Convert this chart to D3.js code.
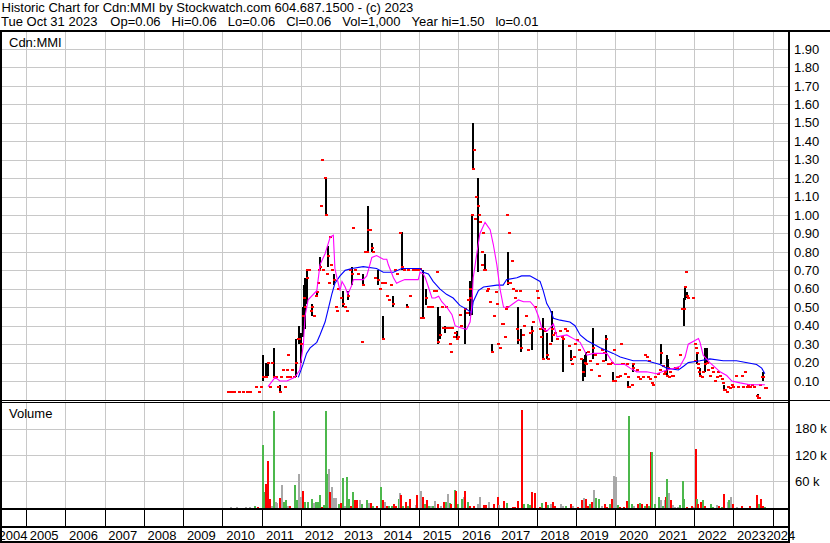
<!DOCTYPE html>
<html><head><meta charset="utf-8">
<script src="https://cdn.jsdelivr.net/npm/d3@7"></script>
<style>
html,body{margin:0;padding:0;background:#fff;}
svg{display:block;font-family:"Liberation Sans",Arial,sans-serif;}
text{white-space:pre;}
</style></head><body>
<svg id="c" width="830" height="543"></svg>
<script>
// ---------------- DATA ----------------
const titleLine1 = "Historic Chart for Cdn:MMI by Stockwatch.com 604.687.1500 - (c) 2023";
const titleLine2 = ["Tue Oct 31 2023", "Op=0.06", "Hi=0.06", "Lo=0.06", "Cl=0.06", "Vol=1,000", "Year hi=1.50", "lo=0.01"];
const symbolLabel = "Cdn:MMI";
const volumeLabel = "Volume";
const years = [2004,2005,2006,2007,2008,2009,2010,2011,2012,2013,2014,2015,2016,2017,2018,2019,2020,2021,2022,2023,2024];
const priceTicks = [0.10,0.20,0.30,0.40,0.50,0.60,0.70,0.80,0.90,1.00,1.10,1.20,1.30,1.40,1.50,1.60,1.70,1.80,1.90];
const volumeTicks = [60000,120000,180000];

// [decimal year, high, low, close]  or  [decimal year, close] (no range)
const bars2010_2011 = [
 [2010.15,.04],[2010.22,.04],[2010.29,.04],[2010.42,.04],[2010.51,.04],[2010.62,.04],[2010.71,.04],[2010.85,.07],[2010.93,.04],[2010.98,.07],
 [2011.04,.24,.10,.12],[2011.08,.12],[2011.12,.20,.12,.12],[2011.16,.20,.13,.20],[2011.21,.07],[2011.26,.20],[2011.32,.28,.12,.12],[2011.36,.12],
 [2011.41,.07],[2011.46,.08,.04,.04],[2011.50,.12],[2011.54,.16],[2011.59,.07],[2011.63,.12],[2011.64,.16],[2011.68,.24],[2011.72,.12],[2011.77,.16],
 [2011.82,.12],[2011.87,.33,.12,.20],[2011.91,.33],[2011.95,.40,.30,.33],[2011.99,.36,.20,.30]
];
const bars2012_2014 = [
 [2012.04,.50,.34,.45],[2012.07,.62,.38,.55],[2012.10,.66,.38,.50],[2012.14,.70],[2012.16,.70,.52,.66],[2012.20,.70],[2012.25,.48],
 [2012.28,.52,.45,.50],[2012.33,.45],[2012.38,.56],[2012.40,.59,.56,.58],[2012.43,.63],[2012.45,.70],[2012.48,.77,.71,.72],[2012.51,1.05],[2012.52,1.30],
 [2012.56,.70],[2012.60,1.20],[2012.63,1.20,1.00,1.00],[2012.66,.68],[2012.68,.83,.72,.78],[2012.70,.63],[2012.74,.88],[2012.76,.73],[2012.79,.70],
 [2012.84,.68,.62,.65],[2012.88,.50],[2012.91,.48],[2012.94,.60],
 [2013.02,.55],[2013.07,.59,.50,.52],[2013.12,.50],[2013.17,.48],[2013.20,.59,.54,.56],[2013.24,.70],[2013.29,.72,.62,.68],[2013.33,.93],
 [2013.37,.70],[2013.45,.68],[2013.54,.31],[2013.58,.68,.62,.62],[2013.63,.80],[2013.68,.80],[2013.71,1.05,.80,.92],[2013.75,.92],
 [2013.80,.85,.80,.82],[2013.83,.80],[2013.88,.66],[2013.96,.70,.62,.65],
 [2014.01,.60],[2014.06,.63],[2014.09,.45,.33,.33],[2014.13,.63],[2014.19,.56],[2014.24,.54],[2014.29,.62],[2014.35,.56,.50,.52],
 [2014.39,.70],[2014.44,.68],[2014.52,.90],[2014.56,.91,.70,.72],[2014.62,.70],[2014.69,.52,.50,.50],[2014.72,.70],[2014.77,.56],
 [2014.85,.70],[2014.92,.70],[2014.97,.70]
];
const bars2015_2017 = [
 [2015.03,.71],[2015.05,.44],[2015.11,.70,.44,.44],[2015.17,.60,.51,.55],[2015.23,.50],[2015.28,.50],[2015.33,.50],[2015.38,.59],
 [2015.43,.59],[2015.45,.69],[2015.49,.50,.30,.31],[2015.53,.45,.33,.35],[2015.58,.50],[2015.62,.39],[2015.66,.40,.36,.39],[2015.69,.50],
 [2015.72,.39],[2015.76,.39],[2015.79,.30],[2015.81,.26],[2015.85,.39],[2015.89,.34],[2015.92,.36],[2015.96,.37,.33,.33],[2015.99,.34],
 [2016.04,.46],[2016.07,.40],[2016.17,.49,.30,.49],[2016.22,.47],[2016.25,.54],[2016.29,.64,.45,.60],[2016.30,.55],[2016.34,1.00,.46,1.00],
 [2016.38,1.50,1.25,1.25],[2016.40,1.35],[2016.42,.98],[2016.45,1.10],[2016.51,1.20,.69,1.05],[2016.53,1.00],[2016.55,.96],[2016.59,.80],
 [2016.60,.73],[2016.63,.90],[2016.65,.70],[2016.68,.79,.70,.70],[2016.73,.59],[2016.76,.60],[2016.81,.53],[2016.85,.30,.25,.26],
 [2016.91,.45],[2016.96,.58],[2016.99,.52],
 [2017.01,.30],[2017.06,.28],[2017.11,.41],[2017.14,.41],[2017.19,.34],[2017.22,.49],[2017.24,.50],[2017.25,1.00],[2017.27,.80,.62,.63],
 [2017.29,.90],[2017.32,.63],[2017.37,.75],[2017.39,.60],[2017.44,.55],[2017.47,.59],[2017.50,.38],[2017.53,.50,.30,.32],[2017.57,.59],
 [2017.60,.38,.26,.28],[2017.65,.35],[2017.67,.40],[2017.72,.45],[2017.77,.27],[2017.83,.36],[2017.87,.40,.27,.37],[2017.90,.42],
 [2017.95,.50],[2018.00,.59]
];
const bars2018_2020 = [
 [2018.03,.55],[2018.08,.38],[2018.10,.34],[2018.16,.44,.22,.22],[2018.18,.38],[2018.21,.37],[2018.25,.36,.22,.24],[2018.28,.22],
 [2018.33,.30],[2018.38,.48,.31,.38],[2018.41,.35],[2018.46,.36],[2018.51,.33],[2018.59,.37],[2018.64,.34],[2018.67,.33,.15,.33],
 [2018.72,.38],[2018.77,.37],[2018.82,.29],[2018.86,.27,.21,.22],[2018.89,.19],[2018.94,.23],[2018.97,.30],
 [2019.02,.32],[2019.07,.27],[2019.12,.22],[2019.18,.22,.10,.15],[2019.22,.24,.12,.20],[2019.26,.26,.19,.19],[2019.30,.26],[2019.35,.21],
 [2019.38,.16],[2019.44,.39,.22,.28],[2019.48,.24],[2019.53,.19],[2019.58,.13],[2019.65,.27],[2019.69,.21],[2019.71,.25],
 [2019.76,.35,.21,.33],[2019.82,.19],[2019.86,.19],[2019.90,.20],[2019.93,.15,.10,.10],[2019.94,.10],[2019.96,.27],[2019.98,.10],
 [2020.03,.12],[2020.07,.12],[2020.11,.13],[2020.13,.30],[2020.16,.19],[2020.20,.19],[2020.24,.14],[2020.28,.19],[2020.31,.12],
 [2020.33,.10,.07,.07],[2020.35,.07],[2020.41,.08],[2020.44,.20,.15,.19],[2020.45,.17],[2020.54,.16],[2020.58,.12],[2020.62,.11],
 [2020.69,.12],[2020.75,.24],[2020.79,.23],[2020.83,.12],[2020.86,.21],[2020.88,.11],[2020.92,.09],[2020.95,.08]
];
const bars2021_2023 = [
 [2021.01,.12],[2021.09,.14],[2021.13,.16],[2021.16,.30,.19,.25],[2021.20,.18],[2021.22,.14],[2021.26,.15],[2021.30,.24,.13,.13],
 [2021.34,.22,.17,.17],[2021.35,.12],[2021.39,.15],[2021.43,.13],[2021.47,.13],[2021.51,.17],[2021.57,.17],[2021.64,.24],[2021.68,.49],
 [2021.73,.55,.40,.49],[2021.77,.61,.54,.61],[2021.79,.69],[2021.81,.58,.55,.56],[2021.83,.56],[2021.85,.55],[2021.96,.55],
 [2022.01,.21],[2022.02,.30],[2022.05,.28],[2022.07,.25,.19,.25],[2022.09,.19],[2022.11,.17],[2022.13,.15],[2022.15,.17,.12,.13],
 [2022.19,.12],[2022.23,.15],[2022.28,.28,.15,.19],[2022.32,.28,.20,.20],[2022.36,.16],[2022.40,.13],[2022.45,.17],[2022.49,.15],
 [2022.53,.10],[2022.58,.12],[2022.62,.15],[2022.66,.13],[2022.70,.11],[2022.74,.09],[2022.76,.08,.05,.05],[2022.79,.05],[2022.83,.04],
 [2022.87,.07],[2022.91,.06],[2022.96,.08],[2023.00,.07],
 [2023.07,.13],[2023.12,.07],[2023.21,.13],[2023.25,.07],[2023.30,.15],[2023.34,.07],[2023.37,.08],[2023.42,.07],[2023.47,.08],
 [2023.52,.07],[2023.61,.02],[2023.63,.03,.01,.01],[2023.66,.01],[2023.68,.08],[2023.72,.12],[2023.75,.15,.10,.12],[2023.76,.12],
 [2023.80,.06],[2023.83,.06]
];

// short moving average (magenta) [decimal year, value]
const maShort = [
 [2011.16,.07],[2011.34,.12],[2011.46,.10],[2011.64,.10],[2011.84,.12],[2011.97,.16],[2012.06,.30],[2012.10,.45],[2012.18,.54],
 [2012.40,.59],[2012.48,.73],[2012.61,.79],[2012.74,.88],[2012.82,.89],[2012.86,.71],[2012.91,.66],[2012.99,.59],[2013.04,.64],
 [2013.12,.61],[2013.19,.57],[2013.29,.62],[2013.33,.65],[2013.58,.65],[2013.67,.67],[2013.80,.77],[2013.92,.78],[2014.09,.76],
 [2014.18,.76],[2014.22,.73],[2014.35,.66],[2014.43,.63],[2014.52,.64],[2014.64,.65],[2014.98,.65],[2015.03,.69],[2015.11,.68],
 [2015.16,.66],[2015.24,.61],[2015.33,.55],[2015.41,.55],[2015.50,.56],[2015.58,.53],[2015.71,.50],[2015.84,.46],[2015.92,.40],
 [2016.04,.39],[2016.21,.38],[2016.30,.42],[2016.34,.50],[2016.38,.66],[2016.47,.79],[2016.55,.90],[2016.68,.96],[2016.81,.92],
 [2016.89,.84],[2016.98,.73],[2017.06,.60],[2017.15,.50],[2017.27,.50],[2017.40,.52],[2017.53,.54],[2017.66,.53],[2017.83,.53],
 [2017.95,.50],[2018.04,.45],[2018.12,.39],[2018.25,.37],[2018.34,.39],[2018.42,.41],[2018.51,.34],[2018.76,.35],[2018.93,.33],
 [2019.10,.31],[2019.27,.24],[2019.44,.25],[2019.61,.25],[2019.78,.25],[2019.90,.21],[2019.98,.19],[2020.24,.19],[2020.37,.17],
 [2020.54,.15],[2020.79,.15],[2021.05,.14],[2021.18,.15],[2021.30,.16],[2021.51,.17],[2021.64,.18],[2021.77,.23],[2021.85,.30],
 [2022.02,.32],[2022.11,.33],[2022.15,.31],[2022.23,.24],[2022.40,.20],[2022.66,.15],[2022.83,.13],[2022.96,.10],[2023.17,.09],
 [2023.42,.08],[2023.68,.08],[2023.80,.08]
];
// long moving average (blue)
const maLong = [
 [2011.93,.12],[2012.05,.19],[2012.14,.25],[2012.23,.28],[2012.40,.31],[2012.48,.35],[2012.61,.42],[2012.69,.49],[2012.78,.57],
 [2012.86,.63],[2012.99,.67],[2013.12,.70],[2013.29,.71],[2013.58,.72],[2013.92,.71],[2014.09,.69],[2014.35,.69],[2014.56,.71],
 [2015.03,.71],[2015.11,.69],[2015.24,.68],[2015.36,.64],[2015.53,.60],[2015.70,.57],[2015.87,.55],[2016.04,.51],[2016.21,.49],
 [2016.34,.47],[2016.38,.53],[2016.51,.59],[2016.64,.61],[2016.98,.62],[2017.14,.62],[2017.23,.65],[2017.49,.66],[2017.61,.67],
 [2017.82,.67],[2018.08,.64],[2018.16,.59],[2018.25,.52],[2018.33,.49],[2018.42,.44],[2018.59,.43],[2018.84,.42],[2018.97,.40],
 [2019.10,.35],[2019.27,.32],[2019.61,.28],[2019.94,.25],[2020.12,.23],[2020.45,.21],[2020.79,.21],[2021.13,.19],[2021.30,.17],
 [2021.60,.16],[2021.73,.18],[2021.85,.20],[2022.15,.21],[2022.40,.22],[2022.74,.21],[2023.08,.21],[2023.59,.19],[2023.72,.17],
 [2023.80,.14]
];

// volume [decimal year, thousands of shares, u=up / d=down / n=unchanged]
const volume2010_2014 = [
 [2010.22,.5,'n'],[2010.38,.5,'n'],[2010.60,1,'n'],[2010.70,1.9,'n'],[2010.83,3.4,'u'],[2010.91,.8,'d'],
 [2011.02,143,'u'],[2011.08,35,'u'],[2011.12,54,'d'],[2011.15,106,'d'],[2011.21,20,'d'],[2011.25,3.4,'n'],[2011.31,220,'u'],
 [2011.36,13,'n'],[2011.40,9.5,'n'],[2011.46,22,'d'],[2011.51,51,'n'],[2011.56,13,'u'],[2011.62,17,'u'],[2011.66,3.4,'n'],
 [2011.73,3.4,'d'],[2011.84,51,'u'],[2011.89,16,'u'],[2011.95,76,'n'],[2012.00,25,'n'],[2012.05,38,'d'],[2012.10,13,'u'],
 [2012.17,13,'u'],[2012.28,19,'u'],[2012.33,9.5,'n'],[2012.38,13,'u'],[2012.43,13,'u'],[2012.48,29,'u'],[2012.52,2,'d'],
 [2012.58,5.7,'u'],[2012.63,220,'u'],[2012.66,76,'u'],[2012.71,88,'n'],[2012.74,35,'d'],[2012.79,46,'n'],[2012.84,21,'n'],
 [2012.90,21,'n'],[2012.96,7.3,'u'],[2013.02,9.5,'d'],[2013.06,67,'u'],[2013.11,4,'n'],[2013.16,69,'u'],[2013.21,19,'u'],
 [2013.26,3.4,'d'],[2013.31,35,'u'],[2013.36,17,'d'],[2013.43,17,'d'],[2013.50,17,'n'],[2013.56,8,'u'],[2013.67,17,'u'],
 [2013.72,9.5,'n'],[2013.77,9.5,'d'],[2013.82,3.4,'u'],[2013.94,3.4,'d'],[2014.03,46,'u'],[2014.08,17,'d'],[2014.13,12,'n'],
 [2014.18,3.4,'d'],[2014.23,3.4,'u'],[2014.31,3.4,'u'],[2014.36,8,'d'],[2014.41,3.4,'d'],[2014.48,19,'u'],[2014.51,32,'n'],
 [2014.53,29,'d'],[2014.59,3.4,'u'],[2014.67,12.5,'d'],[2014.72,3.4,'u'],[2014.77,19,'d']
];
const volume2015_2019 = [
 [2014.92,5.7,'n'],[2014.95,29,'d'],[2015.04,38,'n'],[2015.10,25,'d'],[2015.16,8,'u'],[2015.21,17,'d'],[2015.26,3.4,'u'],
 [2015.30,3.4,'n'],[2015.36,3.4,'u'],[2015.41,15,'n'],[2015.48,8,'d'],[2015.56,3.4,'n'],[2015.64,12.5,'d'],[2015.68,12.5,'u'],
 [2015.73,31,'n'],[2015.78,9.5,'u'],[2015.81,8,'d'],[2015.92,40,'u'],[2015.95,38,'d'],[2016.00,7.3,'u'],[2016.09,19,'u'],
 [2016.14,25,'n'],[2016.17,38,'d'],[2016.24,12.5,'u'],[2016.29,3.4,'d'],[2016.39,3.4,'d'],[2016.49,8,'n'],[2016.54,24,'n'],
 [2016.65,5.7,'d'],[2016.70,5.7,'d'],[2016.78,12.5,'n'],[2016.90,8,'d'],[2017.00,24,'d'],[2017.04,5.7,'n'],[2017.16,15,'d'],
 [2017.25,9.5,'u'],[2017.38,.8,'d'],[2017.45,.8,'d'],[2017.51,15,'d'],[2017.61,222,'d'],[2017.68,8,'u'],[2017.77,8,'u'],
 [2017.82,5.7,'u'],[2017.87,35,'d'],[2017.95,33,'d'],[2018.07,2,'d'],[2018.14,9.5,'u'],[2018.24,12.5,'d'],[2018.29,5.7,'u'],
 [2018.36,8,'n'],[2018.41,12.5,'d'],[2018.46,3.4,'d'],[2018.61,8,'n'],[2018.67,3.4,'n'],[2018.73,3.4,'u'],[2018.87,8,'d'],
 [2018.92,3.4,'n'],[2019.04,.8,'d'],[2019.14,17,'d'],[2019.19,21,'n'],[2019.24,19,'d'],[2019.30,3.4,'d'],[2019.35,8,'u'],
 [2019.40,12.5,'d'],[2019.45,40,'n'],[2019.51,22,'u'],[2019.58,19,'u'],[2019.66,3.4,'n'],[2019.73,8,'d'],[2019.79,.8,'d'],
 [2019.86,8,'u'],[2019.91,19,'d'],[2019.96,72,'n']
];
const volume2020_2023 = [
 [2020.01,70,'n'],[2020.06,5,'u'],[2020.11,.5,'d'],[2020.22,.5,'d'],[2020.30,15,'d'],[2020.34,209,'u'],[2020.42,8,'u'],
 [2020.47,3.4,'n'],[2020.57,8,'d'],[2020.62,10,'u'],[2020.67,8,'d'],[2020.74,3.4,'u'],[2020.79,8,'d'],[2020.86,3.4,'u'],
 [2020.89,127,'d'],[2020.93,127,'u'],[2021.00,8,'u'],[2021.10,23,'u'],[2021.15,17,'n'],[2021.20,3.4,'u'],[2021.25,17,'n'],
 [2021.28,23,'d'],[2021.30,65,'u'],[2021.35,33,'n'],[2021.40,17,'d'],[2021.46,5.7,'n'],[2021.51,.8,'n'],[2021.59,1,'n'],
 [2021.63,5,'u'],[2021.71,60,'u'],[2021.74,19,'u'],[2021.81,1,'d'],[2021.95,3.4,'d'],[2022.00,.8,'n'],[2022.05,133,'d'],
 [2022.07,19,'u'],[2022.10,8,'d'],[2022.17,12.5,'d'],[2022.22,17,'u'],[2022.27,3.4,'d'],[2022.42,8,'u'],[2022.47,.8,'u'],
 [2022.58,5,'n'],[2022.63,3.4,'d'],[2022.71,2,'u'],[2022.76,31,'d'],[2022.87,12.5,'n'],[2022.90,17,'u'],[2022.95,24,'n'],
 [2022.98,8,'d'],[2023.08,2,'n'],[2023.22,3.4,'d'],[2023.42,3.4,'d'],[2023.59,29,'d'],[2023.64,7.3,'u'],[2023.69,19,'d'],
 [2023.76,3.4,'d'],[2023.80,.8,'u']
];

// ---------------- DRAW ----------------
const priceBars = [...bars2010_2011, ...bars2012_2014, ...bars2015_2017, ...bars2018_2020, ...bars2021_2023].map(b =>
  b.length === 2 ? {t: b[0], hi: b[1], lo: b[1], cl: b[1]} : {t: b[0], hi: b[1], lo: b[2], cl: b[3]});
const volumeBars = [...volume2010_2014, ...volume2015_2019, ...volume2020_2023].map(v => ({t: v[0], vol: v[1] * 1000, dir: v[2]}));

const toDate = y => { const yr = Math.floor(y); const a = new Date(yr, 0, 1), b = new Date(yr + 1, 0, 1); return new Date(+a + (y - yr) * (b - a)); };

const W = 830, H = 543;
const plotLeft = 2, plotRight = 788;
const priceTop = 32, priceBottom = 400;
const volTop = 403, volBottom = 508;

const x = d3.scaleTime().domain([new Date(2005, 0, 1), new Date(2024, 0, 1)]).range([26, 772.7]);
const yP = d3.scaleLinear().domain([0, 1.9]).range([399.5, 48.95]);
const yV = d3.scaleLinear().domain([0, 180000]).range([507.5, 428.6]);

const svg = d3.select("#c");
svg.append("rect").attr("width", W).attr("height", H).attr("fill", "#fff");

const defs = svg.append("defs");
defs.append("clipPath").attr("id", "clipP").append("rect").attr("x", plotLeft).attr("y", priceTop).attr("width", plotRight - plotLeft).attr("height", priceBottom - priceTop);
defs.append("clipPath").attr("id", "clipV").append("rect").attr("x", plotLeft).attr("y", volTop).attr("width", plotRight - plotLeft).attr("height", volBottom - volTop);

const grid = svg.append("g").attr("stroke", "#c8c8c8").attr("stroke-width", 1).attr("shape-rendering", "crispEdges");
const yearDates = years.map(y => new Date(y, 0, 1)).filter(d => x(d) > plotLeft && x(d) < plotRight);
yearDates.forEach(d => {
  const px = Math.round(x(d)) + 0.5;
  grid.append("line").attr("x1", px).attr("x2", px).attr("y1", priceTop).attr("y2", priceBottom);
  grid.append("line").attr("x1", px).attr("x2", px).attr("y1", volTop).attr("y2", volBottom);
});
priceTicks.forEach(v => {
  const py = Math.round(yP(v)) + 0.5;
  grid.append("line").attr("x1", plotLeft).attr("x2", plotRight).attr("y1", py).attr("y2", py);
});
volumeTicks.forEach(v => {
  const py = Math.round(yV(v)) + 0.5;
  grid.append("line").attr("x1", plotLeft).attr("x2", plotRight).attr("y1", py).attr("y2", py);
});

// price bars
const pg = svg.append("g").attr("clip-path", "url(#clipP)").attr("shape-rendering", "crispEdges");
pg.selectAll("rect.hl").data(priceBars.filter(d => d.hi > d.lo)).join("rect").attr("class", "hl")
  .attr("x", d => Math.round(x(toDate(d.t))) - 1).attr("width", 2)
  .attr("y", d => yP(d.hi)).attr("height", d => yP(d.lo) - yP(d.hi)).attr("fill", "#000");
pg.selectAll("rect.cl").data(priceBars).join("rect").attr("class", "cl")
  .attr("x", d => Math.round(x(toDate(d.t))) - 1).attr("width", 3)
  .attr("y", d => Math.round(yP(d.cl)) - 1).attr("height", 2).attr("fill", "#ff0000");

const line = d3.line().x(d => x(toDate(d[0]))).y(d => yP(d[1]));
const mg = svg.append("g").attr("clip-path", "url(#clipP)").attr("fill", "none");
mg.append("path").attr("d", line(maLong)).attr("stroke", "#0000ff").attr("stroke-width", 1.1);
mg.append("path").attr("d", line(maShort)).attr("stroke", "#ff00ff").attr("stroke-width", 1.1);

// volume bars
const volColor = {u: "#4cb84c", d: "#ff0000", n: "#a8a8a8"};
svg.append("g").attr("clip-path", "url(#clipV)").attr("shape-rendering", "crispEdges")
  .selectAll("rect").data(volumeBars).join("rect")
  .attr("x", d => Math.round(x(toDate(d.t))) - 1).attr("width", 2)
  .attr("y", d => yV(d.vol)).attr("height", d => volBottom - yV(d.vol))
  .attr("fill", d => volColor[d.dir]);

// frame lines
const fr = svg.append("g").attr("stroke", "#000").attr("shape-rendering", "crispEdges");
fr.append("line").attr("x1", 0).attr("x2", W).attr("y1", 31).attr("y2", 31).attr("stroke-width", 2);
fr.append("line").attr("x1", 1).attr("x2", 1).attr("y1", 30).attr("y2", H).attr("stroke-width", 2);
fr.append("line").attr("x1", 789).attr("x2", 789).attr("y1", 30).attr("y2", 542).attr("stroke-width", 2);
fr.append("line").attr("x1", 0).attr("x2", W).attr("y1", 400.5).attr("y2", 400.5).attr("stroke-width", 1);
fr.append("line").attr("x1", 0).attr("x2", 789).attr("y1", 402.5).attr("y2", 402.5).attr("stroke-width", 1);
fr.append("line").attr("x1", 0).attr("x2", 790).attr("y1", 509).attr("y2", 509).attr("stroke-width", 2);
fr.append("line").attr("x1", 0).attr("x2", 790).attr("y1", 527).attr("y2", 527).attr("stroke-width", 2);
fr.append("line").attr("x1", 0).attr("x2", 790).attr("y1", 542).attr("y2", 542).attr("stroke-width", 2);
yearDates.forEach(d => {
  const px = Math.round(x(d)) + 0.5;
  fr.append("line").attr("x1", px).attr("x2", px).attr("y1", 509).attr("y2", 527).attr("stroke-width", 1);
});

// axes
const fontSize = 13;
const pAxis = svg.append("g").attr("transform", "translate(794,0)")
  .call(d3.axisRight(yP).tickValues(priceTicks).tickSize(0).tickPadding(0).tickFormat(d3.format(".2f")));
pAxis.select(".domain").remove();
pAxis.selectAll("text").attr("font-size", fontSize).attr("font-family", "Liberation Sans, Arial, sans-serif").attr("fill", "#000");

const vAxis = svg.append("g").attr("transform", "translate(795,0)")
  .call(d3.axisRight(yV).tickValues(volumeTicks).tickSize(0).tickPadding(0).tickFormat(d => (d / 1000) + " k"));
vAxis.select(".domain").remove();
vAxis.selectAll("text").attr("font-size", fontSize).attr("font-family", "Liberation Sans, Arial, sans-serif").attr("fill", "#000");

// year labels (centred in the visible part of each year)
const yl = svg.append("g").attr("font-size", fontSize).attr("text-anchor", "middle").attr("fill", "#000");
years.forEach(y => {
  const x0 = x(new Date(y, 0, 1)), x1 = x(new Date(y + 1, 0, 1));
  const a = Math.max(x0, 0), b = Math.min(x1, 789);
  if (b <= a) return;
  const clamped = (a !== x0) || (b !== x1);
  yl.append("text").attr("x", (a + b) / 2 - (clamped ? 0 : 1.5)).attr("y", 539.5).text(y);
});

// texts
const tx = svg.append("g").attr("font-size", fontSize).attr("fill", "#000");
tx.append("text").attr("x", 1.5).attr("y", 12).text(titleLine1);
let cx = 1;
titleLine2.forEach((s, i) => {
  const t = tx.append("text").attr("x", cx).attr("y", 26).text(s);
  cx += t.node().getComputedTextLength() + (i === 0 ? 13 : 11);
});
tx.append("text").attr("x", 9).attr("y", 46.5).text(symbolLabel);
tx.append("text").attr("x", 9).attr("y", 418).text(volumeLabel);
</script>
</body></html>
